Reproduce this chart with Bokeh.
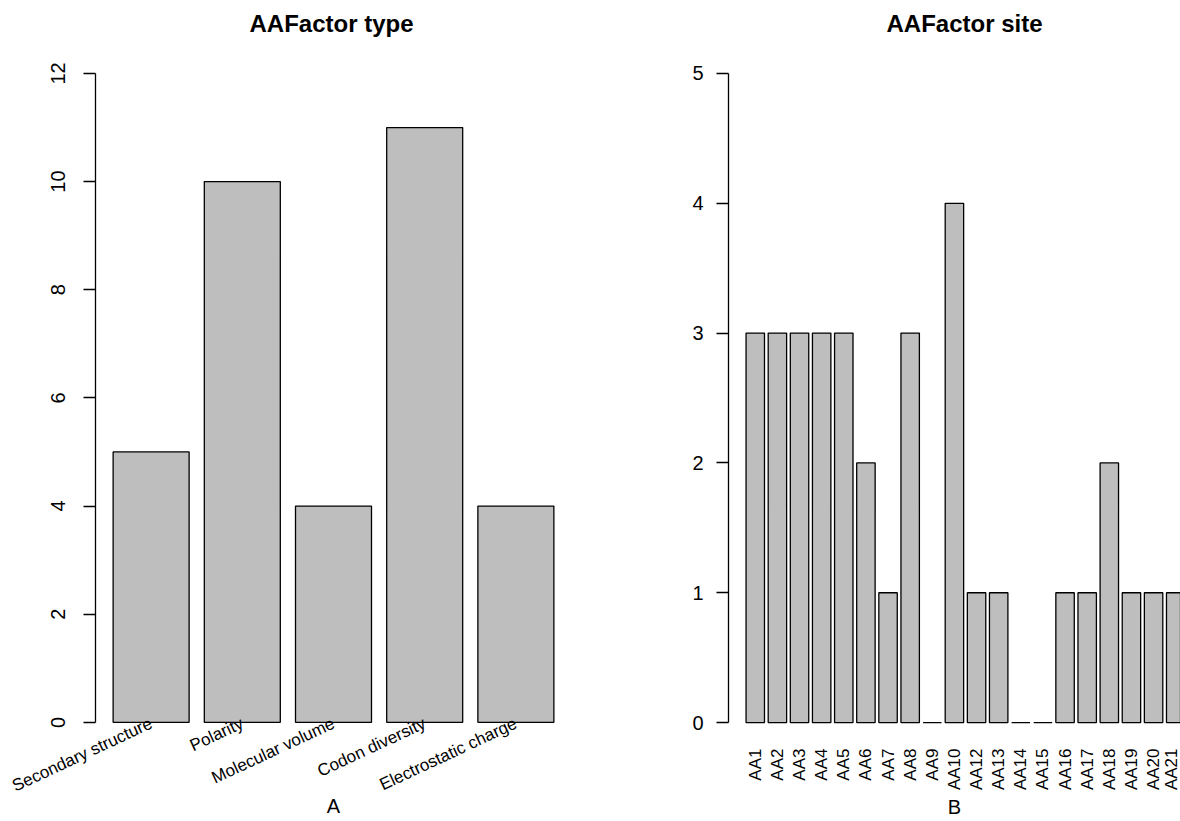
import math
from bokeh.plotting import figure
from bokeh.models import Range1d, FixedTicker
from bokeh.layouts import row
from bokeh.embed import file_html
from bokeh.resources import INLINE

# ---- data ----
type_names = ["Secondary structure", "Polarity", "Molecular volume",
              "Codon diversity", "Electrostatic charge"]
type_counts = [5, 10, 4, 11, 4]
type_yticks = [0, 2, 4, 6, 8, 10, 12]

site_names = ["AA1", "AA2", "AA3", "AA4", "AA5", "AA6", "AA7", "AA8", "AA9",
              "AA10", "AA12", "AA13", "AA14", "AA15", "AA16", "AA17", "AA18",
              "AA19", "AA20", "AA21"]
site_counts = [3, 3, 3, 3, 3, 2, 1, 3, 0, 4, 1, 1, 0, 0, 1, 1, 2, 1, 1, 1]
site_yticks = [0, 1, 2, 3, 4, 5]

FONT = "Liberation Sans"
GREY = "#bebebe"


def bar_centers(n, space=0.2, width=1.0):
    return [round(space + width / 2 + i * (space + width), 6) for i in range(n)]


def style(p, yticks, ylab_orient, ylab_standoff, xlab_orient, xlab_standoff,
          xlabel, xlabel_standoff):
    p.outline_line_color = None
    p.xgrid.visible = False
    p.ygrid.visible = False
    p.background_fill_color = "white"
    p.border_fill_color = "white"

    ya = p.yaxis[0]
    ya.ticker = FixedTicker(ticks=yticks)
    ya.bounds = (yticks[0], yticks[-1])
    ya.minor_tick_line_color = None
    ya.major_tick_in = 0
    ya.major_tick_out = 12
    ya.axis_line_color = "black"
    ya.axis_line_width = 1.3
    ya.major_tick_line_color = "black"
    ya.major_tick_line_width = 1.3
    ya.major_label_text_font = FONT
    ya.major_label_text_font_size = "20px"
    ya.major_label_text_color = "black"
    ya.major_label_orientation = ylab_orient
    ya.major_label_standoff = ylab_standoff

    xa = p.xaxis[0]
    xa.axis_line_color = None
    xa.major_tick_line_color = None
    xa.minor_tick_line_color = None
    xa.major_tick_in = 0
    xa.major_tick_out = 0
    xa.major_label_text_font = FONT
    xa.major_label_text_font_size = "17px"
    xa.major_label_text_color = "black"
    xa.major_label_orientation = xlab_orient
    xa.major_label_standoff = xlab_standoff
    xa.axis_label = xlabel
    xa.axis_label_standoff = xlabel_standoff
    xa.axis_label_text_font = FONT
    xa.axis_label_text_font_size = "20px"
    xa.axis_label_text_font_style = "normal"
    xa.axis_label_text_color = "black"

    p.title.text_font = FONT
    p.title.text_font_size = "24px"
    p.title.text_font_style = "bold"
    p.title.text_color = "black"
    p.title.align = "left"
    p.title.vertical_align = "top"
    p.title.standoff = 18


# ---- panel A ----
cA = bar_centers(len(type_names))
p1 = figure(width=628, height=821,
            x_range=Range1d(-0.032, 6.232), y_range=Range1d(-0.04, 12.48),
            min_border_left=95, min_border_right=57, min_border_top=46,
            min_border_bottom=96, output_backend="svg", toolbar_location=None,
            title="AAFactor type")
p1.vbar(x=cA, width=1.0, top=type_counts, bottom=0,
        fill_color=GREY, line_color="black", line_width=1.3)
style(p1, type_yticks, "vertical", 18, math.radians(25), -2, "A", -12)
p1.xaxis[0].ticker = FixedTicker(ticks=cA)
p1.xaxis[0].major_label_overrides = {c: n for c, n in zip(cA, type_names)}
p1.title.offset = 154

# ---- panel B ----
cB = bar_centers(len(site_names))
p2 = figure(width=552, height=821,
            x_range=Range1d(-0.752, 23.76), y_range=Range1d(-0.015, 5.2),
            min_border_left=100, min_border_right=0, min_border_top=46,
            min_border_bottom=96, output_backend="svg", toolbar_location=None,
            title="AAFactor site")
p2.vbar(x=cB, width=1.0, top=site_counts, bottom=0,
        fill_color=GREY, line_color="black", line_width=1.3)
style(p2, site_yticks, "horizontal", 13, math.pi / 2, 24, "B", 3)
p2.xaxis[0].ticker = FixedTicker(ticks=cB)
p2.xaxis[0].major_label_overrides = {c: n for c, n in zip(cB, site_names)}
p2.title.offset = 158

layout = row(p1, p2, spacing=0)
open("out.html", "w").write(file_html(layout, INLINE))
